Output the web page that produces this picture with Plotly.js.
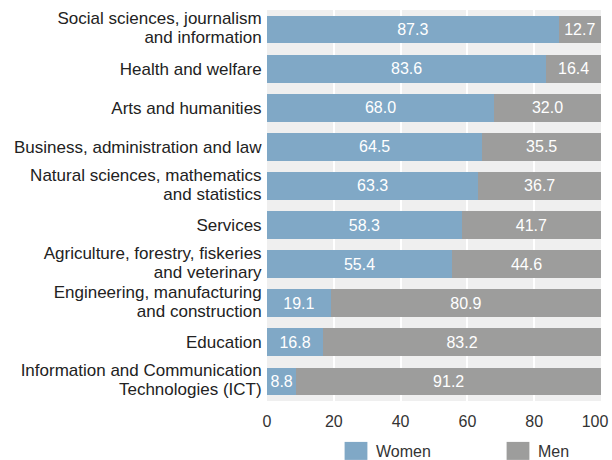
<!DOCTYPE html>
<html><head><meta charset="utf-8">
<script src="https://cdn.plot.ly/plotly-3.0.1.min.js"></script>
<style>body{margin:0;}#c{width:612px;height:460px;}</style>
</head><body><div id="c"></div>
<script>
const categories = [
  "Social sciences, journalism<br>and information",
  "Health and welfare",
  "Arts and humanities",
  "Business, administration and law",
  "Natural sciences, mathematics<br>and statistics",
  "Services",
  "Agriculture, forestry, fiskeries<br>and veterinary",
  "Engineering, manufacturing<br>and construction",
  "Education",
  "Information and Communication<br>Technologies (ICT)"
];
const women = [87.3, 83.6, 68.0, 64.5, 63.3, 58.3, 55.4, 19.1, 16.8, 8.8];
const men = [12.7, 16.4, 32.0, 35.5, 36.7, 41.7, 44.6, 80.9, 83.2, 91.2];
const xTicks = [0, 20, 40, 60, 80, 100];
const xTickText = ["0", "20", "40", "60", "80", "100"];

const font = "Liberation Sans, Arial, sans-serif";
const common = {
  type: 'bar', orientation: 'h', y: categories,
  textposition: 'inside', insidetextanchor: 'middle',
  textfont: {color: '#ffffff', size: 16, family: font},
  width: 0.71, hoverinfo: 'skip'
};
const data = [
  Object.assign({}, common, {name: 'Women', x: women, text: women.map(v => v.toFixed(1)), marker: {color: '#80a8c6'}}),
  Object.assign({}, common, {name: 'Men', x: men, text: men.map(v => v.toFixed(1)), marker: {color: '#9d9d9c'}})
];
const layout = {
  width: 612, height: 460,
  barmode: 'stack',
  paper_bgcolor: '#ffffff', plot_bgcolor: '#efefef',
  margin: {l: 267, r: 11, t: 10, b: 59},
  font: {family: font, size: 16, color: '#333333'},
  xaxis: {range: [0, 100.001], tickvals: xTicks, ticktext: xTickText, gridcolor: '#ffffff', gridwidth: 2, zeroline: false, showline: false, ticks: 'outside', ticklen: 6, tickcolor: 'rgba(0,0,0,0)', ticklabeloverflow: 'allow', tickfont: {size: 16, color: '#333333'}, fixedrange: true, automargin: false},
  yaxis: {autorange: 'reversed', showgrid: false, ticks: 'outside', ticklen: 1, tickcolor: 'rgba(0,0,0,0)', tickfont: {size: 17, color: '#222222', family: font}, automargin: false},
  showlegend: true,
  legend: {orientation: 'h', xref: 'container', yref: 'container', x: 336 / 612, xanchor: 'left', y: 9 / 460, yanchor: 'middle', font: {size: 16, color: '#333333'}, entrywidth: 117, entrywidthmode: 'pixels', traceorder: 'normal'},
  uniformtext: {mode: 'show', minsize: 16}
};
Plotly.newPlot('c', data, layout, {displayModeBar: false, staticPlot: true}).then(function () {
  document.querySelectorAll('.legendpoints path').forEach(function (p) {
    const t = p.getAttribute('transform') || '';
    p.setAttribute('transform', t + ' scale(1.9,1.5)');
    p.style.strokeWidth = '0';
  });
  document.querySelectorAll('.ytick text tspan.line').forEach(function (s) {
    if (s.getAttribute('dy') === '1.3em') s.setAttribute('dy', '1.12em');
  });
  document.querySelectorAll('.xtick text').forEach(function (t) {
    if (t.textContent === '100') {
      const tr = t.getAttribute('transform') || '';
      t.setAttribute('transform', tr + ' translate(-6,0)');
    }
  });
});
</script>
</body></html>
